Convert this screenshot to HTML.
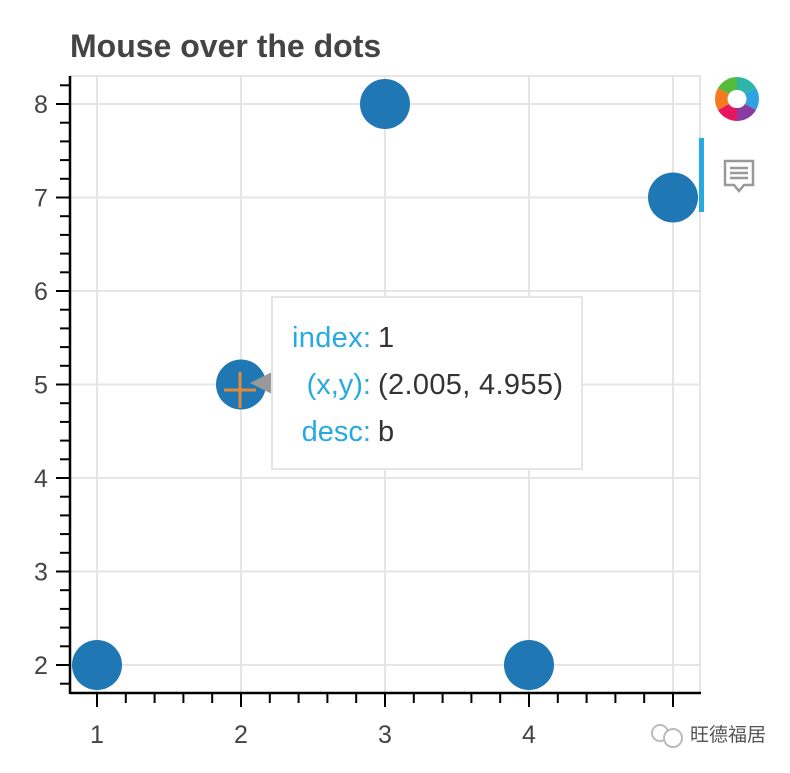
<!DOCTYPE html>
<html><head><meta charset="utf-8"><style>
body{margin:0;background:#fff;width:790px;height:768px;overflow:hidden;font-family:"Liberation Sans",Arial,sans-serif}
</style></head><body>
<svg id="c" width="790" height="768">
<text x="70" y="57" font-size="32" font-weight="bold" fill="#444">Mouse over the dots</text>
<g id="grid"></g><g id="axes"></g><g id="pts"></g>
<g>
<polygon points="250,383 272,372 272,394" fill="#999"/>
<rect x="272" y="297" width="310" height="172" fill="#fff" stroke="#e5e5e5" stroke-width="2"/>
<g font-size="29">
<text x="371" y="347" text-anchor="end" fill="#26aae1" textLength="79">index:</text><text x="378" y="347" fill="#333">1</text>
<text x="371" y="394" text-anchor="end" fill="#26aae1">(x,y):</text><text x="378" y="394" fill="#333" textLength="185">(2.005, 4.955)</text>
<text x="371" y="441" text-anchor="end" fill="#26aae1">desc:</text><text x="378" y="441" fill="#333">b</text>
</g></g>
<g stroke="#e08a3c" stroke-width="3">
<line x1="224" y1="390" x2="256" y2="390"/><line x1="240" y1="372" x2="240" y2="408"/></g>
<g>
<rect x="699" y="138" width="5" height="74" fill="#26aae1"/>
<g transform="translate(737,99)">
<path d="M0,-22 A22,22 0 0 1 19,-11 L8,-5 A9,9 0 0 0 0,-9Z" fill="#2cb5a8"/>
<path d="M19,-11 A22,22 0 0 1 19,11 L8,5 A9,9 0 0 0 8,-5Z" fill="#2fa3e0"/>
<path d="M19,11 A22,22 0 0 1 0,22 L0,9 A9,9 0 0 0 8,5Z" fill="#8a3aa0"/>
<path d="M0,22 A22,22 0 0 1 -19,11 L-8,5 A9,9 0 0 0 0,9Z" fill="#e8175d"/>
<path d="M-19,11 A22,22 0 0 1 -19,-11 L-8,-5 A9,9 0 0 0 -8,5Z" fill="#f47a20"/>
<path d="M-19,-11 A22,22 0 0 1 0,-22 L0,-9 A9,9 0 0 0 -8,-5Z" fill="#55bb3a"/>
</g>
<g fill="none" stroke="#999" stroke-width="2.5">
<path d="M725,161 h28 v24 h-9 l-5,6 l-5,-6 h-9z"/>
<line x1="730" y1="168" x2="748" y2="168"/><line x1="730" y1="173" x2="748" y2="173"/><line x1="730" y1="178" x2="748" y2="178"/></g>
</g>
<g id="wm">
<rect x="650" y="715" width="140" height="40" fill="#fff"/>
<circle cx="660" cy="733" r="8" fill="none" stroke="#bbb" stroke-width="2"/>
<circle cx="673" cy="738" r="9" fill="#fff" stroke="#bbb" stroke-width="2"/>
<text x="690" y="741" font-size="19" fill="#555" font-family="'Liberation Sans','Noto Sans CJK SC',sans-serif">旺德福居</text>
</g>
</svg>
<script>
const xs=[1,2,3,4,5];
const ys=[2,5,8,2,7];
const xTicks=[1,2,3,4,5];
const yTicks=[2,3,4,5,6,7,8];
const NS="http://www.w3.org/2000/svg";
const X=v=>97+(v-1)*144, Y=v=>665-(v-2)*93.5;
function mk(t,a,p){const e=document.createElementNS(NS,t);for(const k in a)e.setAttribute(k,a[k]);p.appendChild(e);return e;}
const g=document.getElementById('grid'),ax=document.getElementById('axes'),pts=document.getElementById('pts');
mk('rect',{x:70,y:76,width:630,height:617,fill:'none',stroke:'#e5e5e5','stroke-width':2},g);
xTicks.forEach(t=>{const l=mk('line',{x1:X(t),x2:X(t),y1:76,y2:693,stroke:'#e5e5e5','stroke-width':2},g);


const tx=mk('text',{x:X(t),y:743,'text-anchor':'middle','font-size':25,fill:'#444'},ax);tx.textContent=t;

});
yTicks.forEach(t=>{const l=mk('line',{x1:70,x2:700,y1:Y(t),y2:Y(t),stroke:'#e5e5e5','stroke-width':2},g);


const tx=mk('text',{x:41,y:Y(t)+9,'text-anchor':'middle','font-size':25,fill:'#444'},ax);tx.textContent=t;

});
mk('line',{x1:70,x2:701,y1:693,y2:693,stroke:'#000','stroke-width':2.5},ax);
mk('line',{x1:70,x2:70,y1:76,y2:694,stroke:'#000','stroke-width':2.5},ax);
for(let v=0.8;v<=5.2;v+=0.2){const x=X(v);if(x<70||x>701)continue;const maj=Math.abs(v-Math.round(v))<1e-6;
mk('line',{x1:x,x2:x,y1:693,y2:maj?707:703,stroke:'#000','stroke-width':2},ax);}
for(let v=1.8;v<=8.4;v+=0.2){const y=Y(v);if(y<76||y>693)continue;const maj=Math.abs(v-Math.round(v))<1e-6;
mk('line',{x1:maj?56:60,x2:70,y1:y,y2:y,stroke:'#000','stroke-width':2},ax);}
xs.forEach((x,i)=>{const c=mk('circle',{cx:X(x),cy:Y(ys[i]),r:25,fill:'#1f77b4'},pts);

});
</script>
</body></html>
